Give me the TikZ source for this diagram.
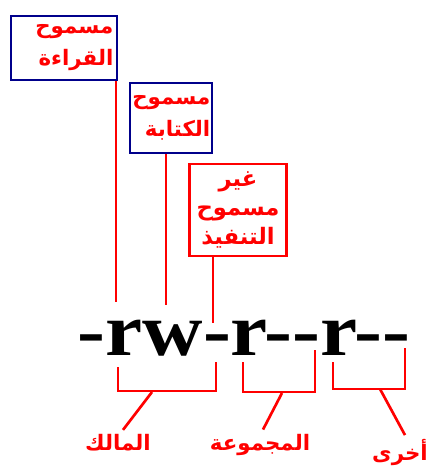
\documentclass[tikz,border=0pt]{standalone}
\usepackage{fontspec}
\usepackage{xcolor}
\setmainfont{Liberation Serif}
\newfontfamily\arabicfont[Script=Arabic]{DejaVu Sans}
\TeXXeTstate=1
\newcommand{\arab}[1]{{\arabicfont\beginR #1\endR}}
\definecolor{boxblue}{RGB}{0,0,139}

\begin{document}
\begin{tikzpicture}[
    x=0.75pt, y=-0.75pt,
    permbox/.style={
        rectangle,
        draw=boxblue,
        line width=2.2pt,
        text=red,
        font=\bfseries\fontsize{16}{24}\selectfont,
        inner sep=0pt,
        align=right
    },
    denybox/.style={
        rectangle,
        draw=red,
        line width=1.6pt,
        text=red,
        font=\bfseries\fontsize{17}{22}\selectfont,
        inner sep=0pt,
        align=center
    },
    link/.style={red, line width=2pt},
    grouplbl/.style={text=red, font=\bfseries\fontsize{16}{18}\selectfont}
]
\useasboundingbox (0,0) rectangle (430,468);

\node[permbox, minimum width=79.5pt, minimum height=48pt, text width=74pt] (rd) at (64,48)
    {\arab{مسموح}\\ \arab{القراءة}};
\node[permbox, minimum width=61.5pt, minimum height=52.5pt, text width=59pt] (wr) at (171,118)
    {\arab{مسموح}\\ \arab{الكتابة}};
\node[denybox, minimum width=72.75pt, minimum height=69pt] (ex) at (238,210)
    {\arab{غير}\\ \arab{مسموح}\\ \arab{التنفيذ}};

\node[font=\bfseries\fontsize{56}{56}\selectfont, xscale=1.12, anchor=base, inner sep=0pt] (mode) at (244,355)
    {-rw-r-{}-r-{}-};

\coordinate (rdend) at (116,302);
\coordinate (wrend) at (166,305);
\coordinate (exend) at (213,323);
\draw[link] (rd.south -| rdend) -- (rdend);
\draw[link] (wr.south -| wrend) -- (wrend);
\draw[link] (ex.south -| exend) -- (exend);

\node[grouplbl] (owner) at (118,443) {\arab{المالك}};
\node[grouplbl] (group) at (260,445) {\arab{المجموعة}};
\node[grouplbl] (other) at (400,453) {\arab{أخرى}};

% brackets under the mode string
\draw[link] (118,367) -- (118,391) -- (216,391) -- (216,362);
\draw[link] (243,362) -- (243,392) -- (315,392) -- (315,350);
\draw[link] (333,362) -- (333,389) -- (405,389) -- (405,348);

\draw[link] (152,392) -- (owner.north -| 123,0);
\draw[link] (282,393) -- (group.north -| 263,0);
\draw[link] (380,389) -- (other.north -| 405,0);

\end{tikzpicture}
\end{document}
